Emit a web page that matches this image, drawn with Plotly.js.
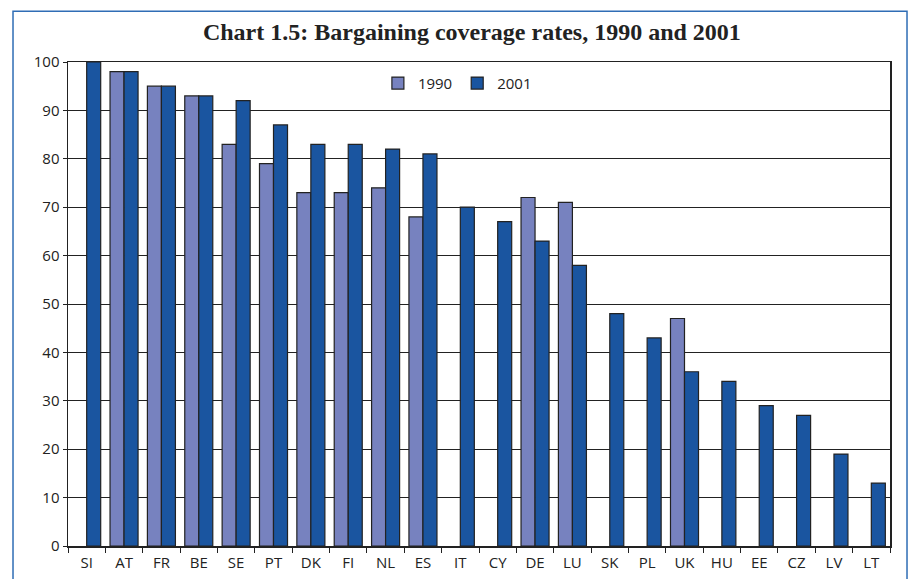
<!DOCTYPE html>
<html><head><meta charset="utf-8">
<script src="https://cdn.plot.ly/plotly-3.0.1.min.js"></script>
<style>html,body{margin:0;padding:0;background:#fff}#c{width:911px;height:579px}</style>
</head><body><div id="c"></div>
<script>
const countries = ["SI","AT","FR","BE","SE","PT","DK","FI","NL","ES","IT","CY","DE","LU","SK","PL","UK","HU","EE","CZ","LV","LT"];
const v1990 = [null,98,95,93,83,79,73,73,74,68,null,null,72,71,null,null,47,null,null,null,null,null];
const v2001 = [100,98,95,93,92,87,83,83,82,81,70,67,63,58,48,43,36,34,29,27,19,13];
const yTicks = [0,10,20,30,40,50,60,70,80,90,100];

const lineStyle = {color:'#222', width:1.2};
const traces = [
  {type:'bar', name:'1990', x:countries, y:v1990, marker:{color:'#7782BF', line:lineStyle}},
  {type:'bar', name:'2001', x:countries, y:v2001, marker:{color:'#1A55A0', line:lineStyle}}
];
const font = "'Open Sans', 'Noto Sans', sans-serif";
const layout = {
  width:911, height:579,
  margin:{l:68, r:21, t:62, b:33},
  paper_bgcolor:'#fff', plot_bgcolor:'#fff',
  barmode:'group', bargap:0.25, bargroupgap:0,
  title:{text:'<b>Chart 1.5: Bargaining coverage rates, 1990 and 2001</b>', x:0.518, xanchor:'center', y:0.945, yanchor:'middle',
         font:{family:"'Liberation Serif', 'DejaVu Serif', serif", size:24, color:'#222'}},
  font:{family:font, size:15, color:'#222'},
  showlegend:true,
  legend:{orientation:'h', x:0.377, y:0.99, xanchor:'left', yanchor:'top', font:{family:font, size:15, color:'#222'}, bgcolor:'rgba(0,0,0,0)', itemwidth:30, tracegroupgap:0},
  xaxis:{type:'category', showline:true, linecolor:'#222', linewidth:1.5, mirror:true,
         ticks:'outside', tickson:'boundaries', ticklen:5, tickcolor:'#222', showgrid:false, ticklabelstandoff:2,
         tickfont:{family:font, size:15, color:'#222'}},
  yaxis:{range:[0,100], tickvals:yTicks, ticktext:yTicks.map(String), showline:true, linecolor:'#222', linewidth:1.5, mirror:true,
         ticks:'outside', ticklen:4, tickcolor:'#222', showgrid:true, gridcolor:'#222', gridwidth:1, zeroline:false,
         tickfont:{family:font, size:15, color:'#222'}},
  shapes:[{type:'rect', xref:'paper', yref:'paper', x0:-0.0669, x1:1.0207, y0:-0.12, y1:1.105,
           line:{color:'#2F6DB5', width:1.5}, fillcolor:'rgba(0,0,0,0)', layer:'below'}]
};
Plotly.newPlot('c', traces, layout, {displayModeBar:false, staticPlot:true});
</script></body></html>
